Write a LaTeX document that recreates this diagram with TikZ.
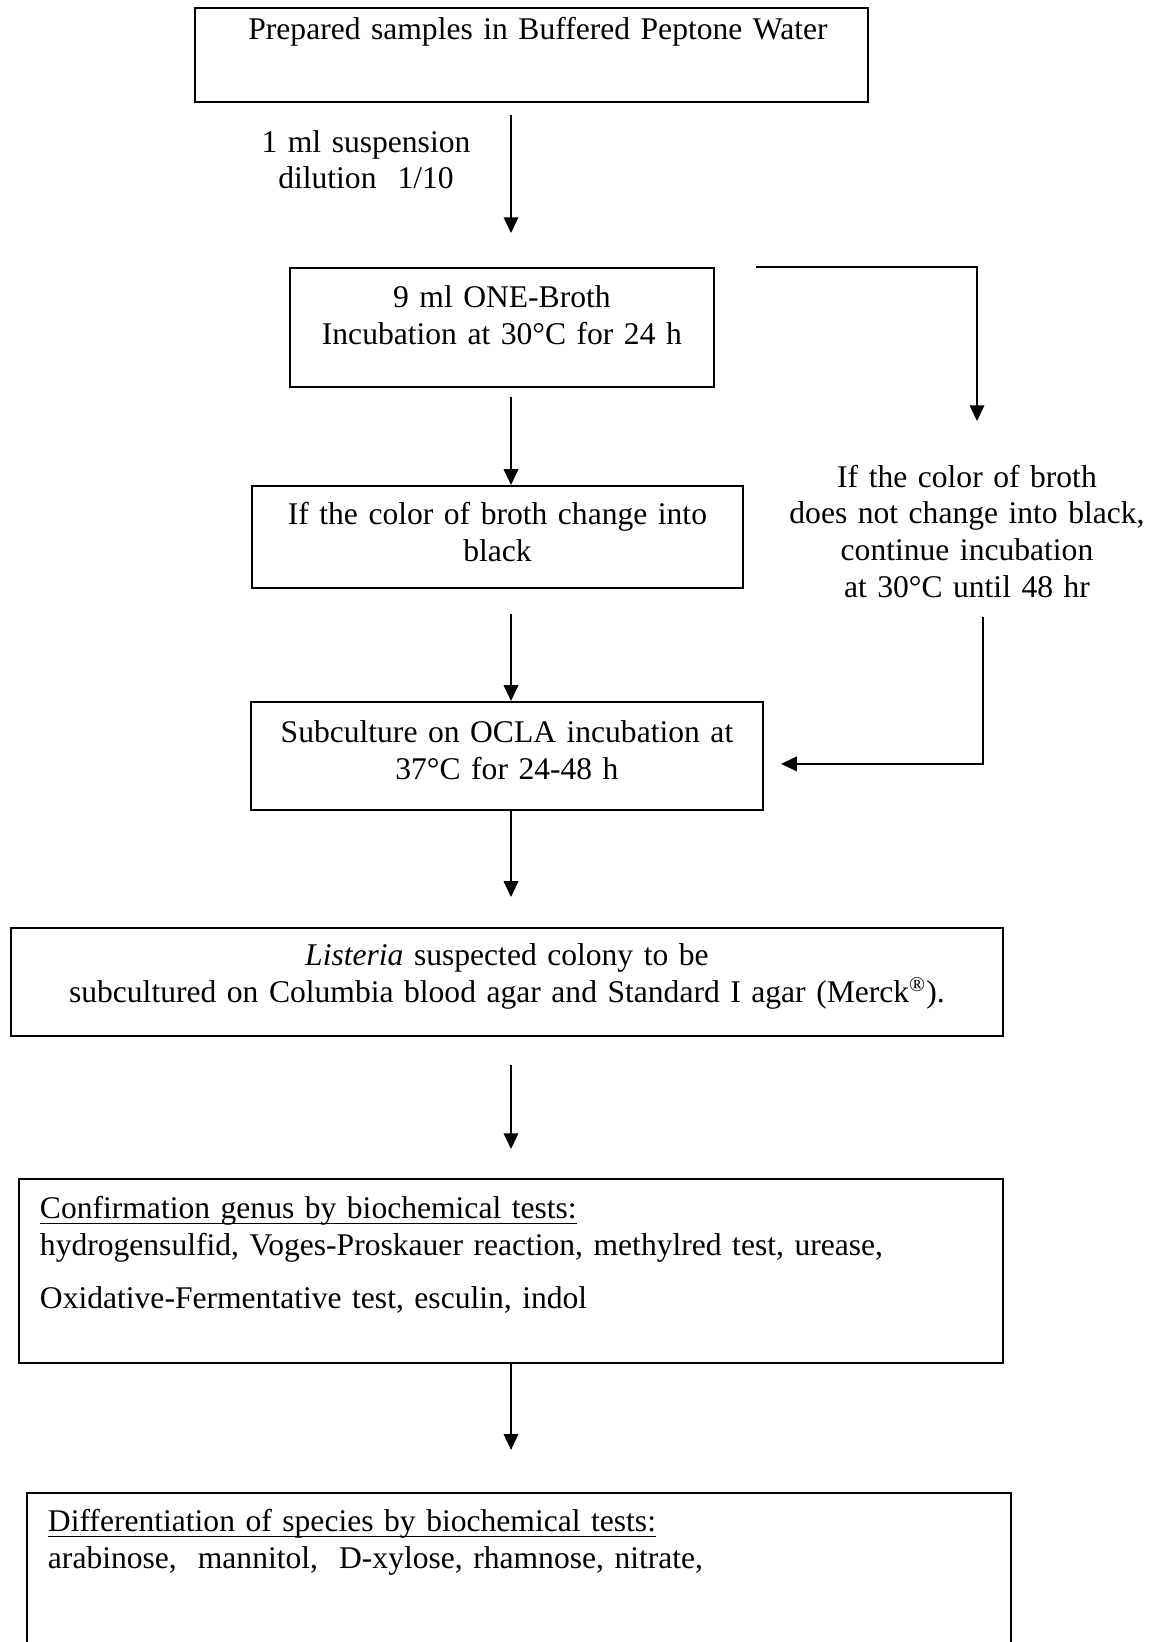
\documentclass[tikz,border=0pt]{standalone}
\usepackage{fontspec}
\setmainfont{Liberation Serif}
\usetikzlibrary{arrows.meta}

\newcommand{\ultitle}[1]{\setbox0=\hbox{#1}\rlap{\rule[-1.9pt]{\wd0}{0.5pt}}\box0}

\begin{document}
\begin{tikzpicture}[x=0.38pt, y=-0.38pt,
		font=\fontsize{12}{14}\selectfont,
		>={Triangle[length=6pt, width=5.5pt]},
		stepbox/.style={draw, rectangle, line width=0.7pt, anchor=north west, inner sep=0pt, align=center},
		notebox/.style={stepbox, align=left, inner xsep=8pt, text width=358pt},
		plain/.style={anchor=base, inner sep=0pt, align=center},
		flow/.style={->, line width=0.7pt}]
				\useasboundingbox (0, 0) rectangle (1154, 1642);
				\clip (0, 0) rectangle (1154, 1642);
				\node[stepbox, text width=255.7pt, text height=11.9pt, text depth=23.8pt] (prep)at(194, 7) {\hspace*{5pt}Prepared samples in Buffered Peptone Water};
				\node[plain, text width=90pt] (dilution)at(366, 152) {1 ml suspension\\dilution~ 1/10};
				\node[stepbox, text width=161.1pt, text height=15.2pt, text depth=30pt] (broth)at(289, 267) {9 ml ONE-Broth\\Incubation at 30°C for 24 h};
				\node[stepbox, text width=186.6pt, text height=14.8pt, text depth=23.9pt] (black)at(251, 485) {If the color of broth change into\\black};
				\node[plain, text width=150pt] (nochange)at(967, 487) {If the color of broth\\does not change into black,\\continue incubation\\ at 30°C until 48 hr};
				\node[stepbox, text width=194.6pt, text height=15.6pt, text depth=25.5pt] (ocla)at(250, 701) {Subculture on OCLA incubation at\\37°C for 24-48 h};
				\node[stepbox, text width=377pt, text height=14.4pt, text depth=26.6pt] (listeria)at(10, 927) {\textit{Listeria} suspected colony to be\\subcultured on Columbia blood agar and Standard I agar (Merck\textsuperscript{\textregistered}).};
				\node[notebox, text height=15.2pt, text depth=54.7pt] (genus)at(18, 1178) {\ultitle{Confirmation genus by biochemical tests:}\\hydrogensulfid, Voges-Proskauer reaction, methylred test, urease,\\[6pt]Oxidative-Fermentative test, esculin, indol};
				\node[notebox, text height=14.8pt, text depth=64pt] (species)at(26, 1492) {\ultitle{Differentiation of species by biochemical tests:}\\arabinose,\ \ mannitol,\ \ D-xylose, rhamnose, nitrate,};
				\coordinate (spine) at (511, 0);
				\draw[flow, shorten <=4.6pt, shorten >=12.9pt] (prep.south -| spine) -- (broth.north -| spine);
				\draw[flow, shorten <=3.4pt] (broth.south -| spine) -- (black.north -| spine);
				\draw[flow, shorten <=9.5pt] (black.south -| spine) -- (ocla.north -| spine);
				\draw[flow, shorten >=11.4pt] (ocla.south -| spine) -- (listeria.north -| spine);
				\draw[flow, shorten <=10.6pt, shorten >=11pt] (listeria.south -| spine) -- (genus.north -| spine);
				\draw[flow, shorten >=16pt] (genus.south -| spine) -- (species.north -| spine);
				\draw[flow, shorten <=15.6pt, shorten >=16.4pt] (broth.north east) -| ([xshift=3.8pt]nochange.north);
				\draw[flow, shorten <=7pt, shorten >=6.5pt] ([xshift=6.1pt]nochange.south) |- ([yshift=-3pt]ocla.east);
			\end{tikzpicture}
\end{document}
